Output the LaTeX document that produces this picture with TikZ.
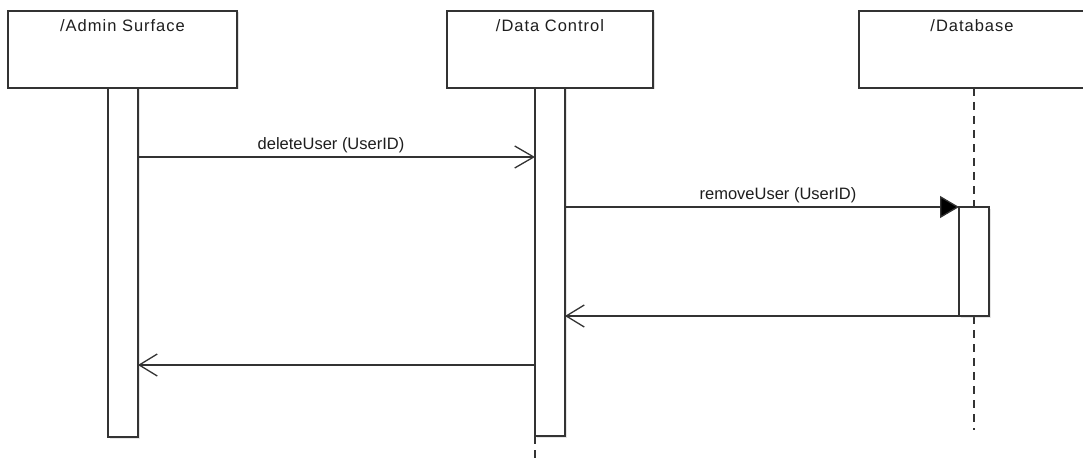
\documentclass[tikz,border=0pt]{standalone}
\usepackage{fontspec}
\setmainfont{Liberation Sans}
\newfontfamily\titlefont[LetterSpace=6]{Liberation Sans}
\usetikzlibrary{arrows.meta,shadows}
\definecolor{ln}{HTML}{333333}
\definecolor{tx}{HTML}{1E1E1E}
\tikzset{
  lifebox/.style={draw=ln, line width=1.5pt, fill=white, inner sep=0pt, outer sep=0pt,
    anchor=north west, drop shadow={shadow xshift=1.5pt, shadow yshift=-1.5pt, opacity=0.25}},
  actbar/.style={draw=ln, line width=1.3pt, fill=white, inner sep=0pt, outer sep=0pt,
    anchor=north west, minimum width=30pt, drop shadow={shadow xshift=1.5pt, shadow yshift=-1.5pt, opacity=0.2}},
  lifeline/.style={draw=ln, line width=1.3pt, dash pattern=on 8pt off 6pt},
  title/.style={text=tx, font=\titlefont\fontsize{16.5}{19}\selectfont, anchor=base, inner sep=0pt},
  msglabel/.style={text=tx, font=\fontsize{16.5}{19}\selectfont, anchor=base, inner sep=0pt},
  call/.style={draw=ln, line width=1.3pt, -{Straight Barb[length=19pt,width=22pt,line width=1.3pt]}},
  synccall/.style={draw=ln, line width=1.3pt, -{Triangle[length=19pt,width=22pt,fill=black]}},
  reply/.style={draw=ln, line width=1.3pt, -{Straight Barb[length=18pt,width=22pt,line width=1.3pt]}},
}
\begin{document}
\begin{tikzpicture}[x=1pt,y=-1pt]
\useasboundingbox[fill=white] (0,0) rectangle (1083,468);

% lifelines (dashed)
\coordinate (dbtop) at (974,88);
\coordinate (dbbot) at (974,430);
\coordinate (dctail) at (535,462);

% header boxes
\node[lifebox, minimum width=229pt, minimum height=77pt] (as) at (8,11) {};
\node[lifebox, minimum width=206pt, minimum height=77pt] (dc) at (447,11) {};
\node[lifebox, minimum width=230pt, minimum height=77pt] (db) at (859,11) {};
\node[title] (ast) at (122.5,32) {/Admin Surface};
\node[title] (dct) at (550,32) {/Data Control};
\node[title] (dbt) at (972,32) {/Database};

% database lifeline
\draw[lifeline] (db.south -| dbtop) -- (974,207);
\draw[lifeline] (974,316) -- (dbbot);

% activation bars
\node[actbar, minimum height=349pt] (asb) at (108,88) {};
\node[actbar, minimum height=348pt] (dcb) at (535,88) {};
\node[actbar, minimum height=109pt] (dbb) at (959,207) {};

% data control tail
\draw[lifeline] (dcb.south west) -- (dctail);

% messages
\draw[call] (asb.east |- 0,157) -- (dcb.west |- 0,157);
\node[msglabel] (m1) at (331,149) {deleteUser (UserID)};
\draw[synccall] (dcb.east |- 0,207) -- (dbb.north west);
\node[msglabel] (m2) at (778,199) {removeUser (UserID)};
\draw[reply] (dbb.south west) -- (dcb.east |- 0,316);
\draw[reply] (dcb.west |- 0,365) -- (asb.east |- 0,365);
\end{tikzpicture}
\end{document}
